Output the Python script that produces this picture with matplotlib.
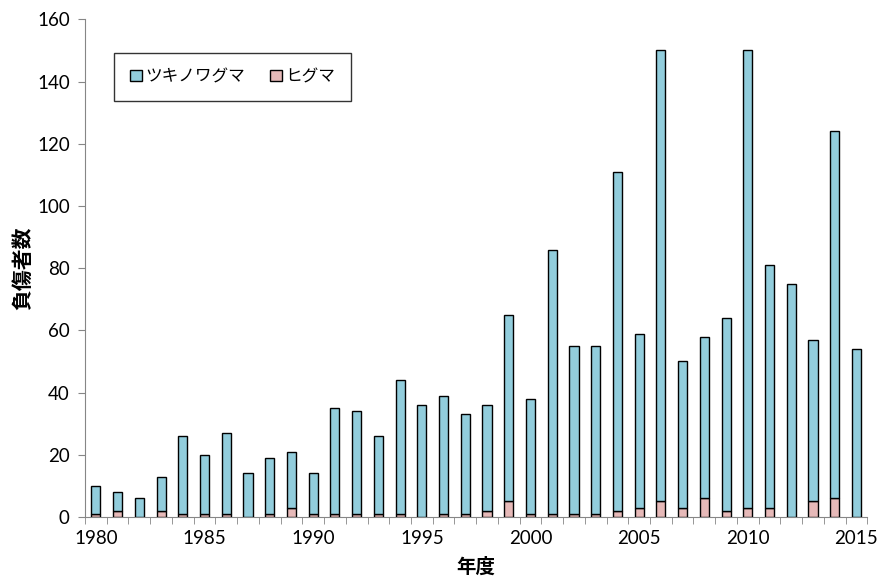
import matplotlib
matplotlib.use("Agg")
import matplotlib.pyplot as plt
import numpy as np

plt.rcParams['font.family'] = ['Lato', 'Noto Sans CJK JP', 'DejaVu Sans']

years = list(range(1980, 2016))
total = [10, 8, 6, 13, 26, 20, 27, 14, 19, 21, 14, 35, 34, 26, 44, 36, 39, 33, 36, 65,
         38, 86, 55, 55, 111, 59, 150, 50, 58, 64, 150, 81, 75, 57, 124, 54]
higuma = [1, 2, 0, 2, 1, 1, 1, 0, 1, 3, 1, 1, 1, 1, 1, 0, 1, 1, 2, 5,
          1, 1, 1, 1, 2, 3, 5, 3, 6, 2, 3, 3, 0, 5, 6, 0]
tsukinowa = [t - h for t, h in zip(total, higuma)]
series_names = ['ツキノワグマ', 'ヒグマ']
yticks = list(range(0, 161, 20))

cjk = ['Noto Sans CJK JP', 'DejaVu Sans']

fig = plt.figure(figsize=(8.8, 5.8), dpi=100)
ax = fig.add_axes([0.0966, 0.1086, 0.889, 0.858])
x = np.arange(len(years))
w = 0.42
b1 = ax.bar(x, higuma, width=w, color='#E6B9B8', edgecolor='black', linewidth=1.0, label=series_names[1], zorder=3)
b2 = ax.bar(x, tsukinowa, width=w, bottom=higuma, color='#92CDDC', edgecolor='black', linewidth=1.0, label=series_names[0], zorder=3)

ax.set_xlim(-0.5, len(years) - 0.5)
ax.set_ylim(0, 160)
ax.set_yticks(yticks)
ax.tick_params(axis='y', direction='out', length=5, color='#868686', labelsize=13.5, pad=6)

# category boundary ticks
ax.set_xticks(np.arange(-0.5, len(years)), minor=True)
ax.tick_params(axis='x', which='minor', direction='out', length=5, color='#868686')
lab_idx = [i for i, y in enumerate(years) if y % 5 == 0]
ax.set_xticks(lab_idx)
ax.set_xticklabels([str(years[i]) for i in lab_idx])
ax.tick_params(axis='x', which='major', length=0, labelsize=13.5, pad=9)

for s in ['top', 'right']:
    ax.spines[s].set_visible(False)
for s in ['left', 'bottom']:
    ax.spines[s].set_color('#868686')

ax.set_ylabel('負傷者数', fontsize=15, fontweight='bold', labelpad=3, family=cjk)
ax.set_xlabel('年度', fontsize=14, fontweight='bold', labelpad=8, family=cjk)

leg = ax.legend(handles=[b2, b1], labels=series_names, loc='upper left',
                bbox_to_anchor=(0.027, 0.95), ncol=2,
                prop={'family': cjk, 'size': 12},
                frameon=True, fancybox=False, edgecolor='black',
                handlelength=0.7, handleheight=0.7, handletextpad=0.2,
                columnspacing=1.5, borderpad=0.95)
leg.get_frame().set_linewidth(1.0)

fig.savefig('out.png', dpi=100)
